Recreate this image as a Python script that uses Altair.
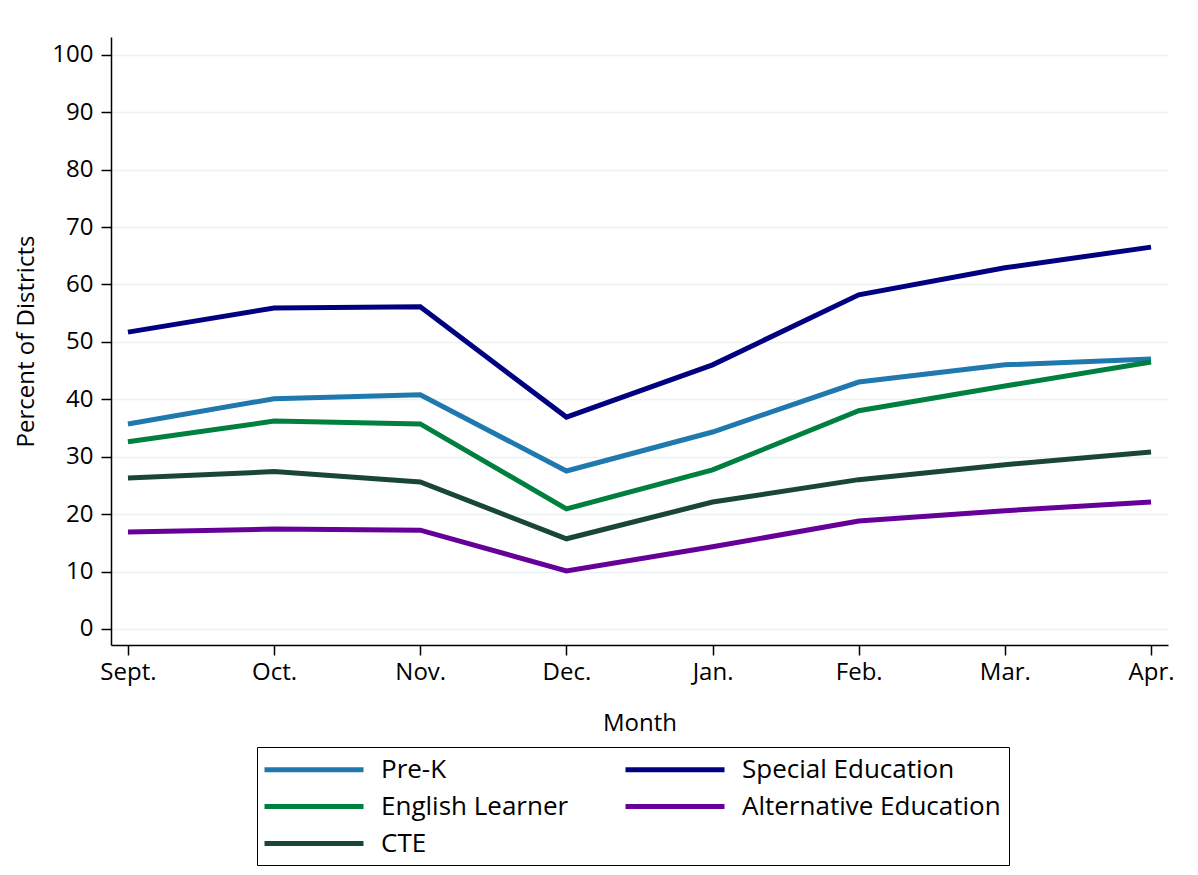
import altair as alt
import pandas as pd

months = ["Sept.", "Oct.", "Nov.", "Dec.", "Jan.", "Feb.", "Mar.", "Apr."]
series_order = ["Pre-K", "English Learner", "CTE", "Special Education", "Alternative Education"]
colors = ["#2079ae", "#00803f", "#1a4639", "#000080", "#660099"]

pre_k = [35.7, 40.1, 40.8, 27.5, 34.3, 43.0, 46.0, 47.0]
special_ed = [51.7, 55.9, 56.1, 36.9, 46.0, 58.2, 62.9, 66.5]
english_learner = [32.6, 36.2, 35.7, 20.9, 27.7, 38.0, 42.3, 46.5]
alt_ed = [16.9, 17.4, 17.2, 10.1, 14.3, 18.8, 20.6, 22.1]
cte = [26.3, 27.4, 25.6, 15.7, 22.1, 26.0, 28.6, 30.8]

values = {
    "Pre-K": pre_k,
    "Special Education": special_ed,
    "English Learner": english_learner,
    "Alternative Education": alt_ed,
    "CTE": cte,
}
rows = []
for s, vals in values.items():
    for m, v in zip(months, vals):
        rows.append({"Month": m, "Series": s, "Value": v})
df = pd.DataFrame(rows)

FONT = "Open Sans"

chart = alt.Chart(df).mark_line(strokeWidth=5, strokeJoin="miter").encode(
    x=alt.X("Month:O", sort=months,
            scale=alt.Scale(type="point", padding=0.116),
            axis=alt.Axis(title="Month", labelAngle=0, grid=False)),
    y=alt.Y("Value:Q", scale=alt.Scale(domain=[-2.8, 103.1], nice=False, zero=False),
            axis=alt.Axis(title="Percent of Districts", values=list(range(0, 101, 10)), grid=True)),
    color=alt.Color("Series:N", sort=series_order,
                    scale=alt.Scale(domain=series_order, range=colors),
                    legend=alt.Legend(
                        title=None, orient="none", legendX=146, legendY=710,
                        columns=2, symbolType="M-1.25,0H7", symbolSize=576,
                        symbolStrokeWidth=5, labelFontSize=26, labelFont=FONT,
                        labelColor="black", labelOffset=87, labelLimit=500,
                        strokeColor="black", padding=8, rowPadding=9,
                        columnPadding=46)),
    detail="Series:N",
).properties(
    width=1057, height=608,
    padding={"left": 103, "top": 29, "right": 20, "bottom": 222},
    autosize=alt.AutoSizeParams(type="none"),
).configure_view(stroke=None).configure_axis(
    labelFont=FONT, titleFont=FONT, labelFontSize=24, titleFontSize=24,
    labelColor="black", titleColor="black", titleFontWeight="normal",
    domainColor="black", domainWidth=1.5, tickColor="black", tickWidth=1.5,
    tickSize=10, gridColor="#eaf2f3", gridWidth=1.5,
).configure_axisX(titlePadding=27, labelPadding=5).configure_axisY(titlePadding=13, labelPadding=8)

chart.save("out.html", embed_options={"renderer": "svg", "actions": False})
